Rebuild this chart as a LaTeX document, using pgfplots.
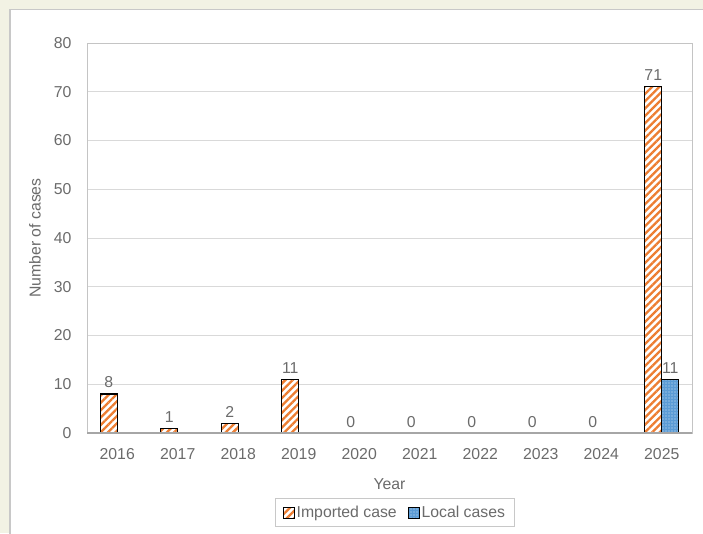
\documentclass[border=0pt]{standalone}
\usepackage{pgfplots}
\pgfplotsset{compat=1.18}
\usetikzlibrary{patterns.meta}
\usepackage{fontspec}
\setmainfont{Liberation Sans}

\definecolor{pagebg}{HTML}{F2F2E4}
\definecolor{boxline}{HTML}{C8C8C8}
\definecolor{gridgray}{HTML}{D9D9D9}
\definecolor{framegray}{HTML}{C4C4C4}
\definecolor{axisgray}{HTML}{A6A6A6}
\definecolor{textgray}{HTML}{6B6B6B}
\definecolor{importorange}{HTML}{ED7D31}
\definecolor{localblue}{HTML}{5B9BD5}

\newcommand{\chartfont}{\fontsize{15.8}{19}\selectfont}

\pgfplotsset{
  squarelegend/.style={
    legend image code/.code={\draw[##1, line width=0.8pt] (0pt,-5.5pt) rectangle (11pt,5.5pt);}
  }
}

\begin{document}
\begin{tikzpicture}[x=1pt,y=1pt]
  \useasboundingbox (0,0) rectangle (703,533);
  \clip (0,0) rectangle (703,533);
  % page and chart card
  \fill[pagebg] (0,0) rectangle (703,533);
  \fill[white] (10,-5) rectangle (710,523.5);
  \draw[boxline, line width=1.2pt] (10,-5) -- (10,523.5) -- (710,523.5);

  \begin{axis}[
    at={(87pt,100pt)}, anchor=south west,
    scale only axis, width=605pt, height=390pt,
    xmin=-0.5, xmax=9.5, ymin=0, ymax=80,
    xtick={0,1,...,9},
    xticklabels={2016,2017,2018,2019,2020,2021,2022,2023,2024,2025},
    ytick={0,10,...,80},
    major tick length=0pt,
    ymajorgrids, grid style={gridgray, line width=1pt},
    axis line style={framegray, line width=1pt},
    /pgf/number format/assume math mode=true,
    tick label style={font=\chartfont, text=textgray},
    xticklabel style={yshift=-12pt},
    yticklabel style={xshift=-12pt},
    label style={font=\chartfont, text=textgray},
    xlabel={Year}, ylabel={Number of cases},
    xlabel style={at={(axis description cs:0.5,-0.131)}, anchor=center},
    ylabel style={at={(axis description cs:-0.086,0.5)}, anchor=center},
    ybar, bar width=17pt,
    nodes near coords,
    every node near coord/.append style={font=\chartfont, text=textgray, inner sep=5.5pt},
    legend columns=2,
    legend style={at={(axis description cs:0.509,-0.204)}, anchor=center,
      draw=boxline, line width=1pt, fill=white, font=\chartfont, text=textgray,
      inner xsep=7pt, inner ysep=5.5pt,
      /tikz/every even column/.append style={column sep=9pt}},
  ]
    % imported cases (non-zero years)
    \addplot[bar shift=-8.5pt, draw=black, line width=1.2pt, fill=white,
      postaction={pattern={Lines[angle=45, distance=5.2pt, line width=2.3pt]},
                  pattern color=importorange},
      squarelegend]
      coordinates {(0,8) (1,1) (2,2) (3,11) (9,71)};
    \addlegendentry{Imported case}
    % local cases
    \addplot[bar shift=8.5pt, draw=black, line width=1.2pt, fill=localblue,
      postaction={pattern={Dots[distance=3pt, radius=0.6pt]},
                  pattern color=white!75!localblue},
      squarelegend]
      coordinates {(9,11)};
    \addlegendentry{Local cases}
    % imported cases, years with no case: only the value label
    \addplot[forget plot, bar shift=-8.5pt, draw=none, fill=none]
      coordinates {(4,0) (5,0) (6,0) (7,0) (8,0)};
    % baseline
    \draw[axisgray, line width=1.3pt] (axis cs:-0.5,0) -- (axis cs:9.5,0);
  \end{axis}
\end{tikzpicture}
\end{document}
